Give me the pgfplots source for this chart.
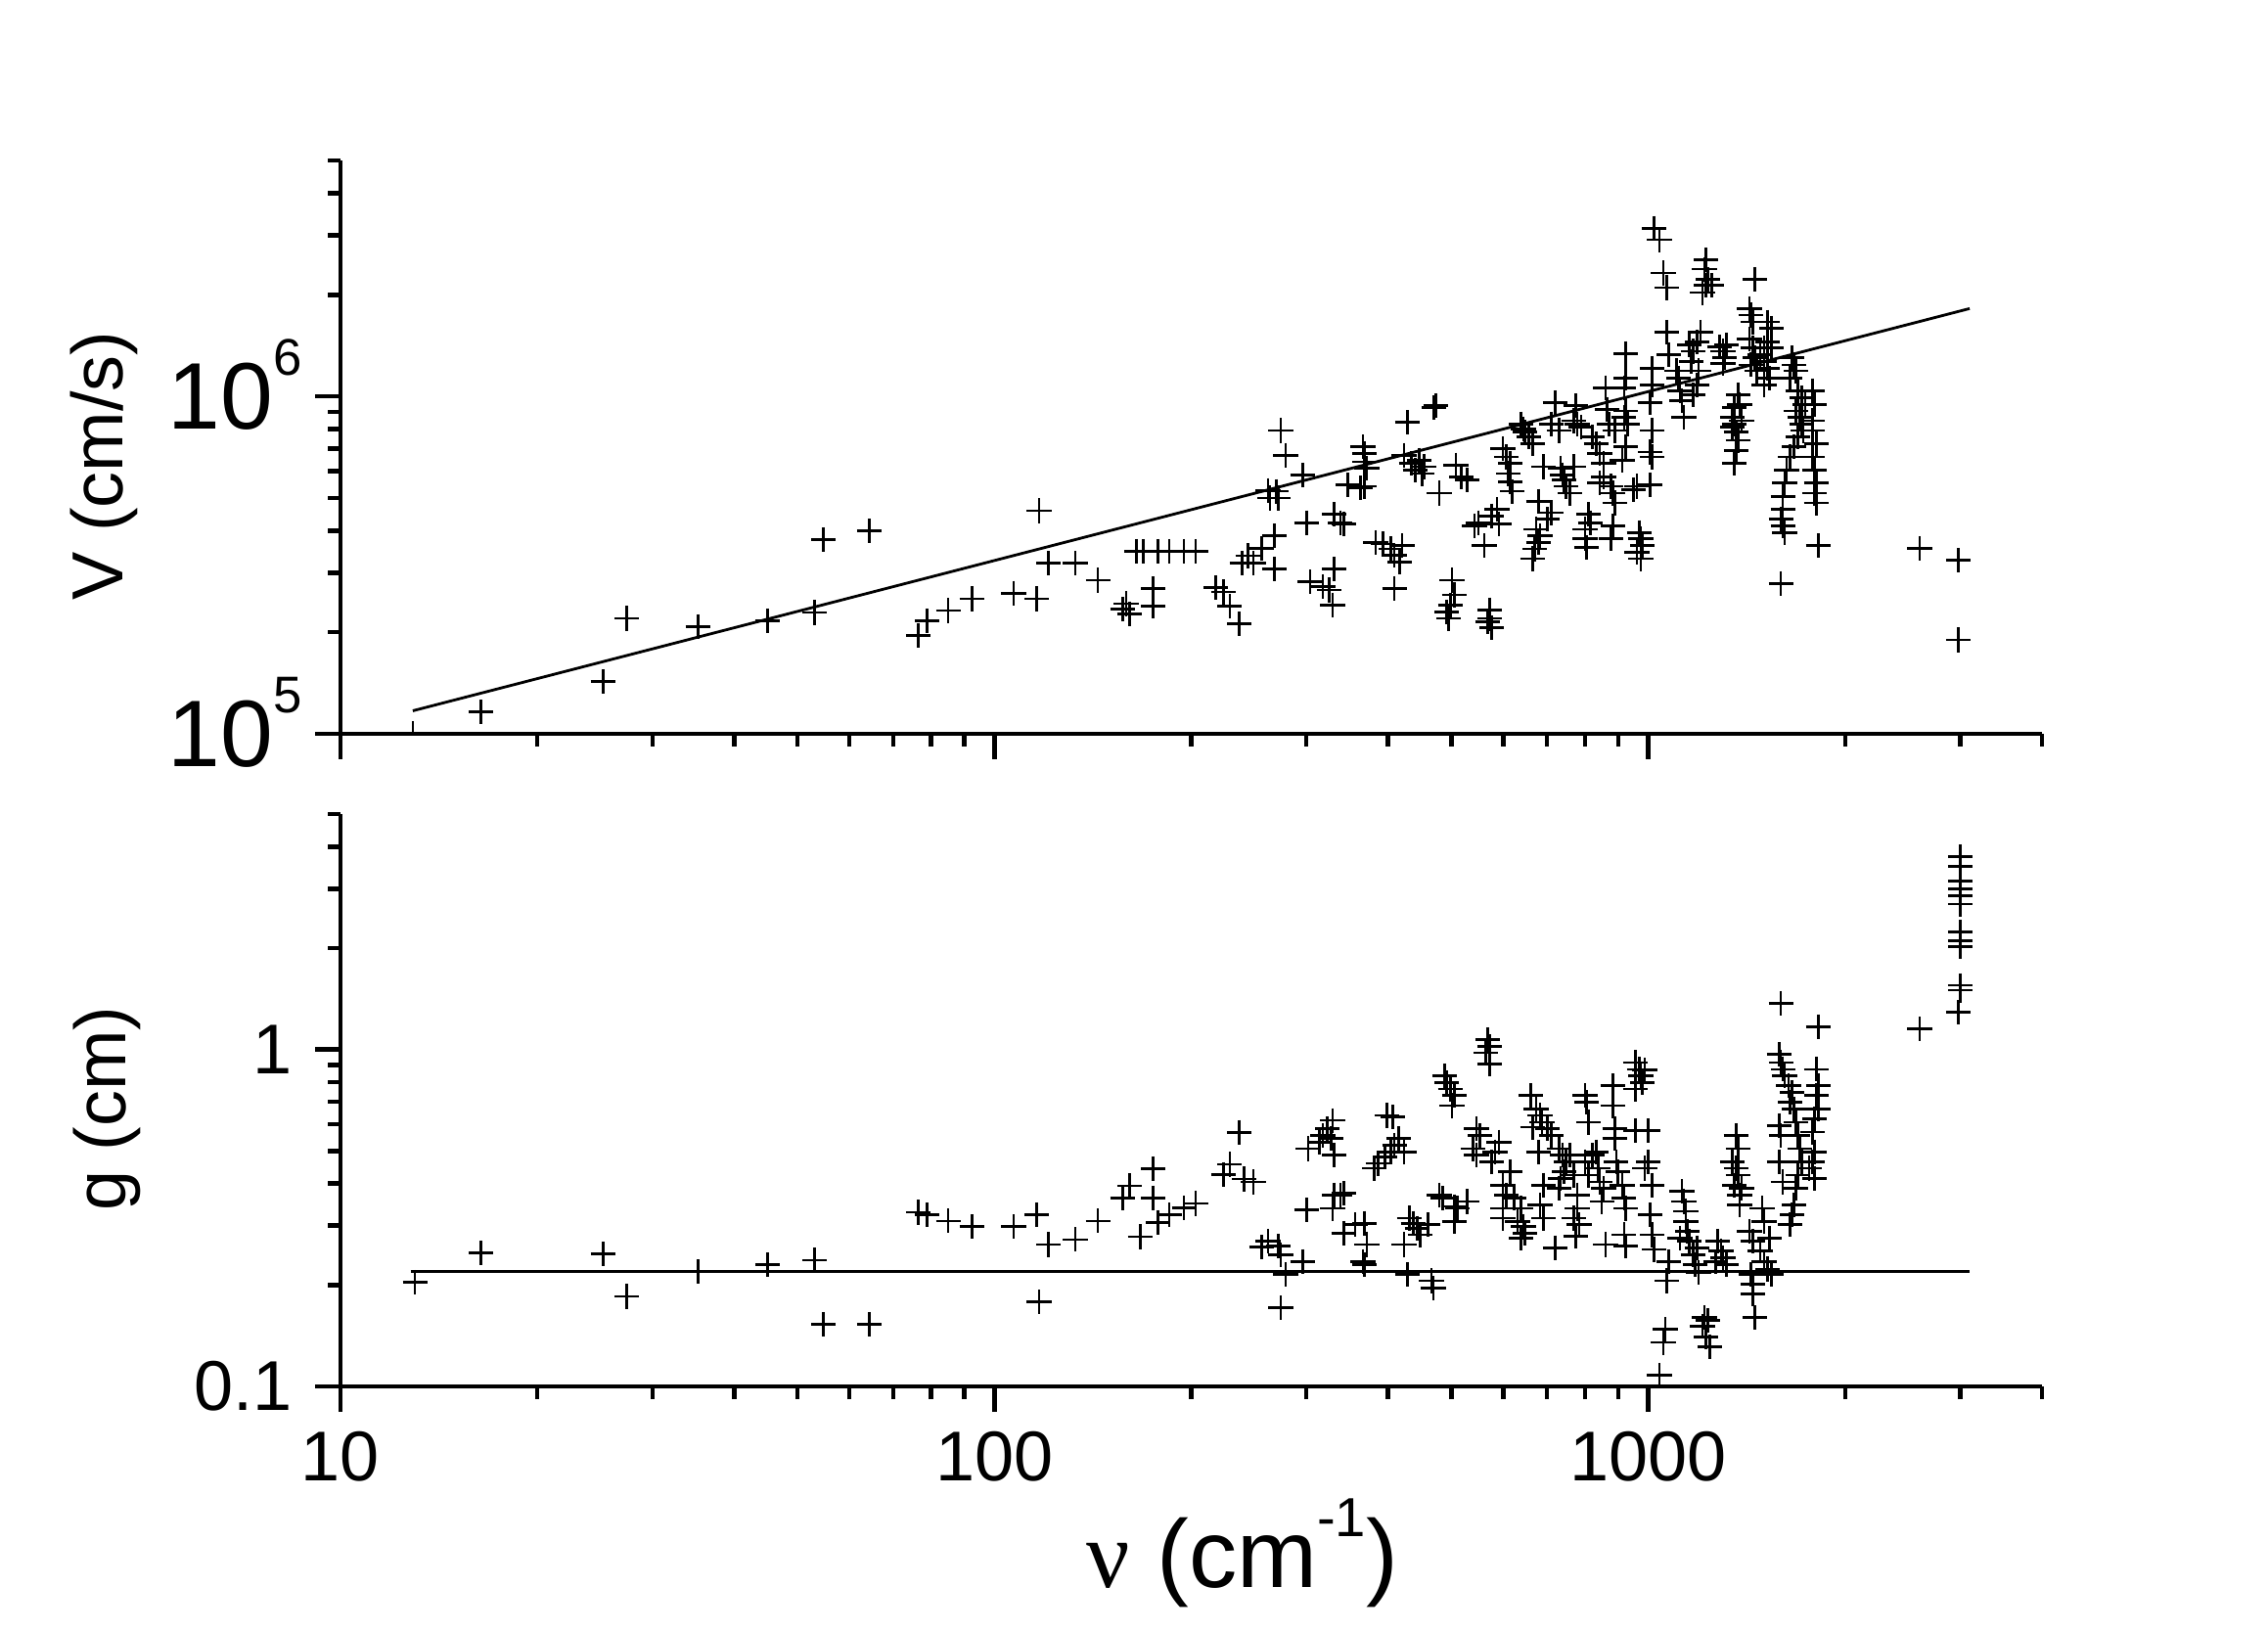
\documentclass[border=0pt]{standalone}
\usepackage{pgfplots}
\pgfplotsset{compat=1.18}
\usepackage{fontspec}
\setmainfont{Liberation Sans}
\newfontfamily\greekserif{Liberation Serif}

\pgfplotstableread{
nu V
12.9 1.0e5
16.4 1.16e5
25.2 1.43e5
27.4 2.2e5
35.2 2.08e5
45.0 2.16e5
53.1 2.29e5
54.8 3.76e5
64.4 3.99e5
76.5 1.96e5
78.9 2.16e5
85 2.32e5
92.4 2.51e5
107 2.61e5
116 2.51e5
117 4.58e5
121 3.2e5
133 3.2e5
144 2.85e5
157 2.34e5
161 2.27e5
159 2.43e5
165 3.47e5
169 3.47e5
178 3.47e5
185 3.47e5
195 3.47e5
203 3.47e5
175 2.69e5
175 2.39e5
218 2.71e5
224 2.63e5
229 2.39e5
237 2.12e5
239 3.2e5
244 3.37e5
249 3.2e5
256 3.54e5
262 5.26e5
264 5.0e5
274 7.92e5
279 6.69e5
296 5.85e5
270 5.23e5
272 5.00e5
268 3.86e5
268 3.08e5
300 4.22e5
331 4.47e5
338 4.22e5
342 4.18e5
331 3.08e5
304 2.82e5
318 2.73e5
325 2.67e5
329 2.41e5
366 7.08e5
368 6.77e5
368 6.40e5
371 6.12e5
347 5.47e5
363 5.35e5
368 5.41e5
383 3.69e5
393 3.65e5
404 3.53e5
409 3.38e5
417 3.23e5
420 3.61e5
409 2.70e5
428 8.37e5
423 6.69e5
434 6.33e5
440 6.05e5
446 6.47e5
454 6.19e5
451 5.91e5
470 9.27e5
473 9.37e5
479 5.17e5
508 6.26e5
518 5.78e5
528 5.65e5
501 2.85e5
505 2.58e5
498 2.41e5
492 2.30e5
495 2.20e5
572 2.33e5
572 2.20e5
568 2.15e5
576 2.06e5
542 4.13e5
550 4.22e5
561 3.61e5
576 4.42e5
587 4.62e5
591 4.18e5
599 7.00e5
607 6.62e5
615 6.33e5
611 5.91e5
615 5.59e5
619 5.23e5
639 8.28e5
644 8.01e5
648 7.83e5
656 7.57e5
665 7.24e5
674 4.04e5
683 3.86e5
679 3.69e5
670 3.53e5
665 3.30e5
692 6.19e5
679 4.89e5
701 4.32e5
711 4.52e5
720 9.58e5
711 8.28e5
730 7.92e5
734 6.12e5
739 5.85e5
744 5.65e5
749 5.41e5
759 5.17e5
769 6.19e5
774 9.37e5
769 8.47e5
779 8.28e5
789 8.10e5
810 4.47e5
800 4.04e5
800 3.78e5
805 3.57e5
815 4.22e5
821 7.57e5
832 7.24e5
843 6.77e5
854 6.33e5
854 5.78e5
843 5.53e5
860 1.06e6
865 9.16e5
871 8.28e5
888 7.92e5
877 5.41e5
882 5.17e5
888 4.83e5
924 1.34e6
924 1.13e6
918 1.06e6
924 9.06e5
918 8.66e5
930 8.28e5
924 7.08e5
912 6.47e5
882 4.13e5
877 3.78e5
949 5.29e5
961 5.41e5
1007 5.47e5
968 3.95e5
974 3.78e5
980 3.61e5
961 3.45e5
974 3.30e5
1013 1.21e6
1013 1.08e6
1007 9.58e5
1013 7.92e5
1007 6.84e5
1013 6.62e5
1020 3.15e6
1040 2.91e6
1054 2.32e6
1068 2.10e6
1068 1.55e6
1075 1.33e6
1104 1.19e6
1111 1.13e6
1118 1.04e6
1126 9.69e5
1133 8.66e5
1156 1.42e6
1171 1.36e6
1163 1.27e6
1186 1.45e6
1202 1.55e6
1194 1.19e6
1186 1.08e6
1171 1.01e6
1226 2.54e6
1218 2.38e6
1234 2.22e6
1226 2.13e6
1250 2.13e6
1210 2.03e6
1284 1.40e6
1301 1.36e6
1309 1.30e6
1318 1.42e6
1301 1.25e6
1371 1.01e6
1353 9.27e5
1344 8.66e5
1353 8.28e5
1362 7.83e5
1371 7.40e5
1362 6.92e5
1353 6.33e5
1380 9.47e5
1389 8.47e5
1344 8.10e5
1455 2.22e6
1427 1.82e6
1436 1.74e6
1445 1.66e6
1427 1.48e6
1445 1.39e6
1455 1.30e6
1436 1.24e6
1464 1.19e6
1523 1.66e6
1543 1.59e6
1523 1.45e6
1503 1.39e6
1543 1.39e6
1483 1.33e6
1503 1.27e6
1523 1.21e6
1503 1.08e6
1533 1.13e6
1660 1.30e6
1671 1.24e6
1682 1.19e6
1648 1.13e6
1692 1.04e6
1715 9.91e5
1738 9.47e5
1682 9.06e5
1704 8.66e5
1715 8.28e5
1726 7.92e5
1692 7.57e5
1671 7.08e5
1648 6.62e5
1627 6.05e5
1616 5.53e5
1606 5.05e5
1606 4.62e5
1595 4.32e5
1606 4.13e5
1616 3.95e5
1784 1.04e6
1796 9.47e5
1784 8.47e5
1784 7.92e5
1807 7.24e5
1784 6.62e5
1796 6.05e5
1807 5.53e5
1796 5.17e5
1807 4.83e5
1819 3.61e5
1595 2.79e5
2600 3.54e5
2980 3.27e5
2980 1.90e5
}\topdata

\pgfplotstableread{
nu g
13.0 0.204
16.4 0.249
25.2 0.247
27.4 0.185
35.2 0.219
45 0.23
53.1 0.237
54.8 0.153
64.4 0.153
76.5 0.329
78.9 0.323
85 0.31
92.4 0.298
107 0.298
116 0.323
117 0.178
121 0.264
133 0.273
144 0.31
157 0.363
161 0.394
167 0.278
175 0.443
175 0.363
178 0.307
185 0.323
195 0.339
203 0.349
224 0.426
229 0.456
237 0.568
241 0.413
249 0.405
256 0.259
262 0.27
272 0.261
274 0.246
279 0.215
274 0.171
296 0.235
300 0.334
302 0.508
314 0.531
318 0.556
323 0.582
329 0.616
327 0.544
331 0.486
331 0.370
338 0.370
342 0.374
329 0.338
342 0.285
356 0.302
368 0.305
371 0.264
366 0.235
368 0.230
398 0.637
407 0.630
415 0.544
409 0.520
404 0.497
396 0.480
386 0.459
381 0.444
423 0.497
423 0.264
431 0.316
437 0.305
443 0.295
448 0.282
460 0.302
428 0.215
466 0.206
469 0.196
479 0.370
485 0.362
505 0.342
511 0.338
528 0.354
505 0.309
488 0.836
492 0.798
498 0.763
505 0.730
501 0.682
568 1.07
572 1.02
564 0.979
572 0.904
546 0.582
553 0.556
539 0.508
546 0.486
591 0.531
583 0.497
576 0.464
599 0.396
615 0.434
607 0.370
623 0.362
599 0.338
599 0.316
639 0.338
631 0.309
644 0.299
648 0.285
639 0.276
661 0.730
674 0.666
683 0.637
688 0.609
665 0.588
701 0.582
679 0.497
711 0.556
730 0.508
739 0.486
749 0.464
744 0.434
734 0.414
730 0.387
692 0.396
683 0.346
692 0.316
720 0.258
759 0.486
769 0.424
779 0.370
779 0.338
769 0.316
784 0.302
774 0.279
800 0.730
805 0.697
810 0.609
800 0.464
810 0.424
821 0.486
832 0.497
838 0.444
843 0.405
854 0.387
849 0.354
860 0.264
882 0.781
882 0.682
888 0.582
888 0.544
893 0.464
899 0.434
912 0.396
918 0.362
924 0.338
918 0.282
924 0.261
955 0.915
968 0.874
974 0.836
980 0.798
955 0.763
987 0.870
1000 0.575
955 0.575
1000 0.464
987 0.444
1013 0.396
1007 0.323
1013 0.282
1020 0.255
1068 0.206
1075 0.235
1061 0.148
1054 0.135
1040 0.108
1126 0.379
1133 0.354
1141 0.331
1141 0.309
1148 0.289
1156 0.270
1171 0.246
1178 0.230
1194 0.218
1118 0.276
1186 0.258
1218 0.160
1234 0.157
1226 0.140
1210 0.151
1242 0.131
1276 0.270
1292 0.252
1301 0.241
1318 0.230
1267 0.235
1362 0.556
1371 0.508
1344 0.464
1362 0.444
1371 0.424
1353 0.396
1389 0.387
1380 0.370
1380 0.346
1436 0.215
1445 0.201
1455 0.160
1445 0.188
1427 0.289
1445 0.270
1483 0.252
1503 0.235
1523 0.223
1543 0.215
1493 0.338
1503 0.309
1533 0.276
1595 1.37
1819 1.17
1585 0.968
1595 0.915
1606 0.874
1616 0.836
1638 0.781
1660 0.746
1648 0.697
1671 0.666
1682 0.609
1692 0.556
1704 0.508
1715 0.464
1692 0.424
1682 0.387
1671 0.346
1660 0.323
1648 0.302
1585 0.595
1585 0.464
1595 0.556
1606 0.405
1807 0.874
1819 0.781
1807 0.730
1819 0.666
1796 0.622
1784 0.569
1796 0.497
1784 0.464
1796 0.414
1761 0.444
2600 1.15
2980 1.29
3000 1.50
3000 1.55
3000 2.02
3000 2.10
3000 2.23
3000 2.70
3000 2.86
3000 3.00
3000 3.16
3000 3.49
3000 3.74
}\botdata

\begin{document}
\begin{tikzpicture}
\path[use as bounding box] (0,0) rectangle (23.18cm,16.67cm);

\begin{axis}[
  scale only axis, width=17.39cm, height=5.86cm,
  at={(3.48cm,9.17cm)}, anchor=south west,
  xmode=log, ymode=log,
  xmin=10, xmax=4000,
  ymin=1e5, ymax=5e6,
  axis x line*=bottom, axis y line*=left,
  axis line style={line width=1.4pt, black},
  tick align=outside,
  major tick length=0.26cm, minor tick length=0.13cm,
  tick style={line width=1.3pt, black},
  xtick={10,100,1000},
  minor xtick={20,30,40,50,60,70,80,90,200,300,400,500,600,700,800,900,2000,3000,4000},
  xticklabels={,,},
  ytick={1e5,1e6},
  yticklabels={10\smash{\raisebox{15.6pt}{\fontsize{15}{15}\selectfont 5}},10\smash{\raisebox{15.6pt}{\fontsize{15}{15}\selectfont 6}}},
  minor ytick={2e5,3e5,4e5,5e5,6e5,7e5,8e5,9e5,2e6,3e6,4e6,5e6},
  yticklabel style={font=\fontsize{27.5}{30}\selectfont, anchor=east, inner sep=0pt, xshift=-0.13cm},
  clip marker paths=true,
  ylabel={V (cm/s)},
  ylabel style={font=\fontsize{21}{25}\selectfont, at={(axis description cs:-0.139,0.4676)}, anchor=center},
]
\addplot[only marks, mark=+, mark size=3.6pt, mark options={line width=0.75pt}, black] table[x=nu, y=V] {\topdata};
\addplot[no marks, line width=0.8pt, black] coordinates {(12.9,1.17e5) (3100,1.82e6)};
\end{axis}

\begin{axis}[
  scale only axis, width=17.39cm, height=5.85cm,
  at={(3.48cm,2.50cm)}, anchor=south west,
  xmode=log, ymode=log,
  xmin=10, xmax=4000,
  ymin=0.1, ymax=5,
  axis x line*=bottom, axis y line*=left,
  axis line style={line width=1.4pt, black},
  tick align=outside,
  major tick length=0.26cm, minor tick length=0.13cm,
  tick style={line width=1.3pt, black},
  xtick={10,100,1000},
  minor xtick={20,30,40,50,60,70,80,90,200,300,400,500,600,700,800,900,2000,3000,4000},
  xticklabels={10,100,1000},
  xticklabel style={font=\fontsize{20.5}{24}\selectfont, anchor=north, inner sep=0pt, yshift=-0.19cm},
  ytick={0.1,1},
  yticklabels={0.1,1},
  minor ytick={0.2,0.3,0.4,0.5,0.6,0.7,0.8,0.9,2,3,4,5},
  yticklabel style={font=\fontsize{20.5}{24}\selectfont, anchor=east, inner sep=0pt, xshift=-0.23cm},
  clip marker paths=true,
  xlabel={{\greekserif ν} (cm\raisebox{15pt}{\fontsize{16}{16}\selectfont -1})},
  xlabel style={font=\fontsize{28}{32}\selectfont, at={(axis description cs:0.53,-0.291)}, anchor=center},
  ylabel={g (cm)},
  ylabel style={font=\fontsize{21}{25}\selectfont, at={(axis description cs:-0.137,0.4855)}, anchor=center},
]
\addplot[only marks, mark=+, mark size=3.6pt, mark options={line width=0.75pt}, black] table[x=nu, y=g] {\botdata};
\addplot[no marks, line width=0.8pt, black] coordinates {(12.8,0.22) (3100,0.22)};
\end{axis}
\end{tikzpicture}
\end{document}
